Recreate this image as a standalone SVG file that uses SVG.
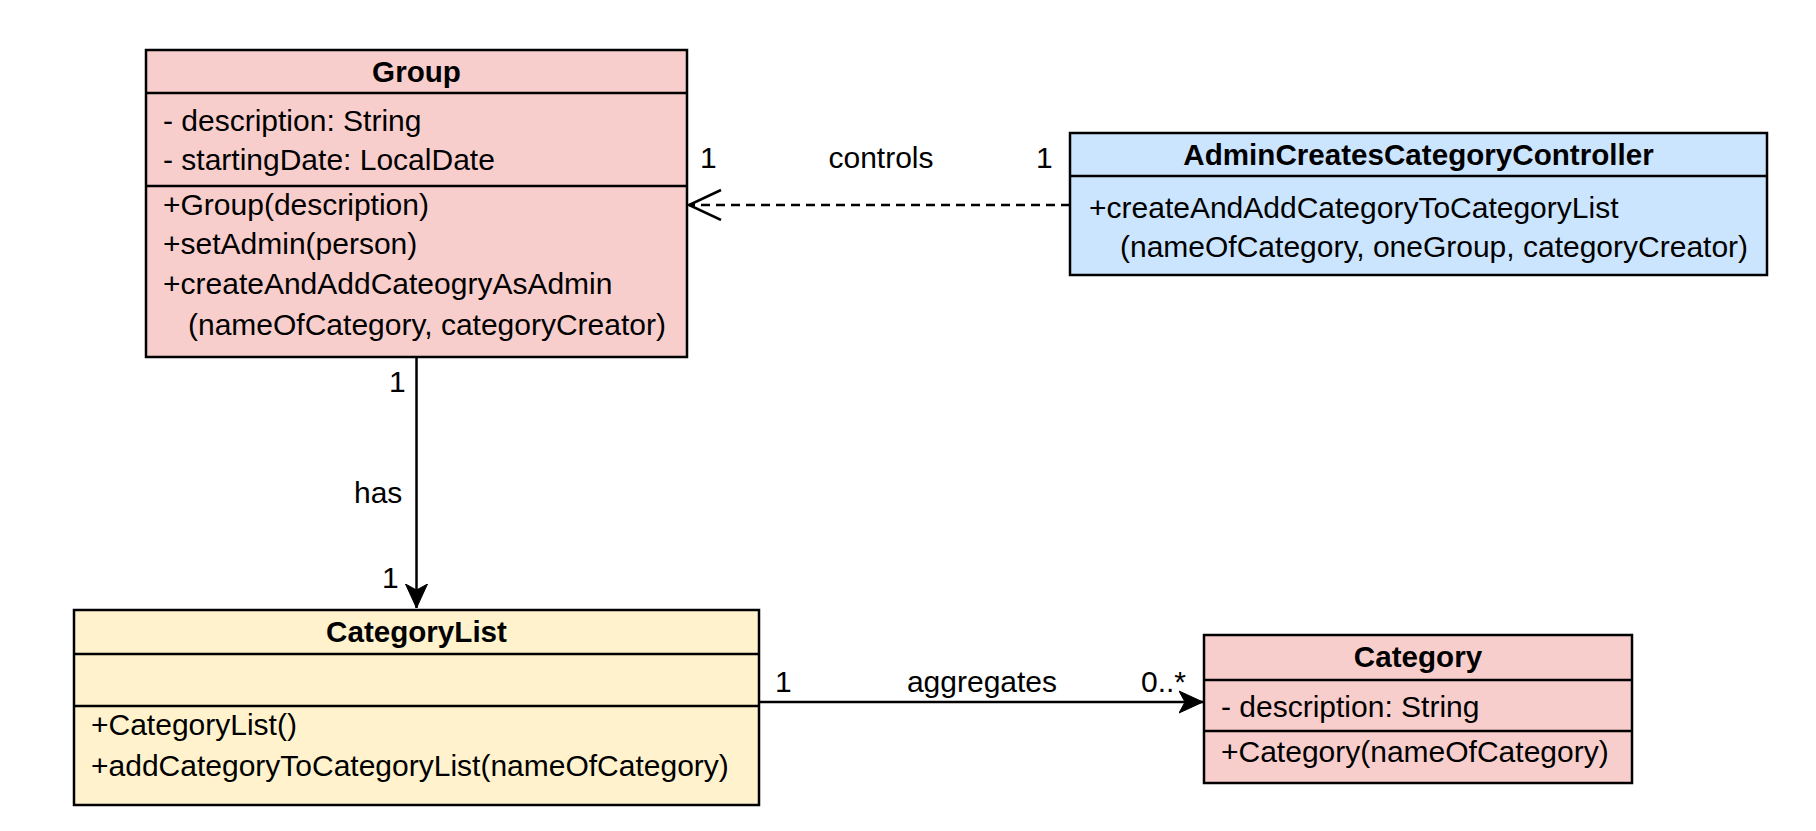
<svg xmlns="http://www.w3.org/2000/svg" width="1816" height="831" viewBox="0 0 1816 831">
<style>
.box{stroke:#000;stroke-width:2.5}
.pink{fill:#f8cecc}
.blue{fill:#cce5ff}
.yellow{fill:#fff2cc}
.div{stroke:#000;stroke-width:2.5;fill:none}
text{font-family:"Liberation Sans",Arial,Helvetica,sans-serif;font-size:30px;fill:#000}
.h{font-weight:bold;font-size:29.6px;text-anchor:middle}
.m{text-anchor:middle}
.conn{stroke:#000;stroke-width:2.5;fill:none}
</style>
<defs>
<marker id="open" markerUnits="userSpaceOnUse" markerWidth="40" markerHeight="40" refX="33" refY="16" orient="auto" viewBox="0 0 40 40">
<path d="M1,1 L33,16 L1,31" fill="none" stroke="#000" stroke-width="2.5"/>
</marker>
<marker id="solid" markerUnits="userSpaceOnUse" markerWidth="30" markerHeight="30" refX="24" refY="12" orient="auto" viewBox="0 0 30 30">
<path d="M0,1 L24,12 L0,23 L6,12 Z" fill="#000" stroke="#000" stroke-width="1"/>
</marker>
</defs>
<rect width="1816" height="831" fill="#fff"/>

<g id="connectors">
<line class="conn" x1="1070" y1="205" x2="689" y2="205" stroke-dasharray="9 6" marker-end="url(#open)"/>
<line class="conn" x1="416.5" y1="357" x2="416.5" y2="608" marker-end="url(#solid)"/>
<line class="conn" x1="759" y1="702" x2="1203" y2="702" marker-end="url(#solid)"/>
<text x="700" y="168">1</text>
<text x="1036" y="168">1</text>
<text class="m" x="881" y="168">controls</text>
<text x="389" y="392">1</text>
<text x="382" y="588">1</text>
<text x="354" y="503">has</text>
<text x="775" y="692">1</text>
<text class="m" x="982" y="692">aggregates</text>
<text x="1141" y="692">0..*</text>
</g>

<g id="group">
<rect class="box pink" x="146" y="50" width="541" height="307"/>
<line class="div" x1="146" y1="93" x2="687" y2="93"/>
<line class="div" x1="146" y1="186" x2="687" y2="186"/>
<text class="h" x="416.5" y="82">Group</text>
<text x="163" y="131">- description: String</text>
<text x="163" y="170">- startingDate: LocalDate</text>
<text x="163" y="215">+Group(description)</text>
<text x="163" y="254">+setAdmin(person)</text>
<text x="163" y="294">+createAndAddCateogryAsAdmin</text>
<text x="188" y="335">(nameOfCategory, categoryCreator)</text>
</g>

<g id="controller">
<rect class="box blue" x="1070" y="133" width="697" height="142"/>
<line class="div" x1="1070" y1="176" x2="1767" y2="176"/>
<text class="h" x="1418.5" y="165">AdminCreatesCategoryController</text>
<text x="1089" y="218">+createAndAddCategoryToCategoryList</text>
<text x="1120" y="257">(nameOfCategory, oneGroup, categoryCreator)</text>
</g>

<g id="categorylist">
<rect class="box yellow" x="74" y="610" width="685" height="195"/>
<line class="div" x1="74" y1="654" x2="759" y2="654"/>
<line class="div" x1="74" y1="706" x2="759" y2="706"/>
<text class="h" x="416.5" y="642">CategoryList</text>
<text x="91" y="735">+CategoryList()</text>
<text x="91" y="776">+addCategoryToCategoryList(nameOfCategory)</text>
</g>

<g id="category">
<rect class="box pink" x="1204" y="635" width="428" height="148"/>
<line class="div" x1="1204" y1="680" x2="1632" y2="680"/>
<line class="div" x1="1204" y1="731" x2="1632" y2="731"/>
<text class="h" x="1418" y="667">Category</text>
<text x="1221" y="717">- description: String</text>
<text x="1221" y="762">+Category(nameOfCategory)</text>
</g>
</svg>
